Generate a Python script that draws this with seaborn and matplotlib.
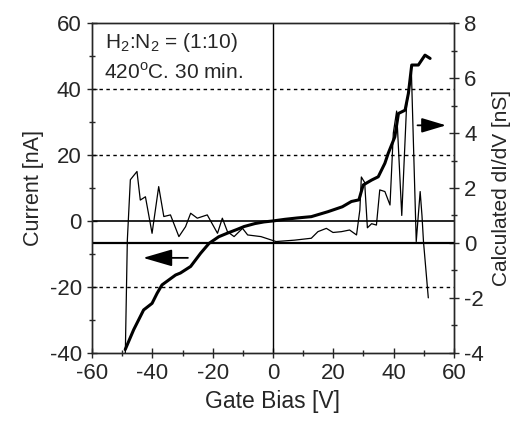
import numpy as np
import pandas as pd
import seaborn as sns
import matplotlib.pyplot as plt

# I-V curve (left axis)
bias_iv = [-49, -46.2, -42.9, -40.1, -38.4, -36.8, -32.3, -30.7, -27.3, -24, -21.2, -18,
           -15.1, -12, -9.6, -6, -3, 0, 4, 8, 12.7, 18.2, 23, 26, 28.5, 29.9, 32.7, 34.9,
           37.1, 38.2, 40.4, 41.6, 43.8, 44.9, 46, 48.2, 50.4, 52.1]
current = [-39, -33, -27, -25, -21.9, -19.4, -16.4, -15.8, -13.8, -9.8, -6.8, -4.8,
           -3.7, -2.6, -1.7, -0.8, -0.3, 0, 0.5, 0.9, 1.3, 2.8, 4.3, 5.9, 6.4, 10.9, 12.4, 13.4,
           17.5, 20.5, 25.5, 32.6, 33.6, 38.7, 47.3, 47.3, 50.3, 49.3]

# calculated dI/dV (right axis)
bias_g = [-49, -48.3, -47.3, -45.1, -44, -42.3, -40.1, -37.9, -36.2, -34, -31.2, -29,
          -27.3, -25.1, -21.8, -18.4, -16.8, -15.1, -12.9, -10.1, -8.4, -4, 1, 7.1, 12.7,
          14.9, 17.7, 19.9, 22.7, 25.4, 27.7, 28.8, 29.3, 30.4, 31.3, 32.7, 34.3, 35.4,
          37.1, 38.8, 39.9, 41.0, 42.7, 44.3, 45.9, 47.5, 48.8, 49.4, 49.9, 51.5]
didv = [-4.2, 0.1, 2.3, 2.6, 1.56, 1.68, 0.35, 2.05, 0.96, 1.02, 0.23, 0.59,
        1.08, 0.9, 1.02, 0.35, 0.9, 0.41, 0.23, 0.53, 0.29, 0.23, 0.05, 0.1, 0.17,
        0.41, 0.53, 0.38, 0.41, 0.47, 0.29, 1.2, 2.4, 2.2, 0.55, 0.7, 0.65, 1.93,
        1.87, 1.38, 4.0, 4.8, 1.0, 5.0, 6.2, 0.05, 1.87, 1.0, 0.05, -2.0]

iv = pd.DataFrame({"bias": bias_iv, "current": current})
gd = pd.DataFrame({"bias": bias_g, "didv": didv})

sns.set_style("ticks")
plt.rcParams['font.family'] = ['Liberation Sans', 'DejaVu Sans']
plt.rcParams['mathtext.fontset'] = 'custom'
plt.rcParams['mathtext.rm'] = 'Liberation Sans'
plt.rcParams['axes.unicode_minus'] = False

fig, ax = plt.subplots(figsize=(5.26, 4.21), dpi=100)
fig.subplots_adjust(left=0.175, right=0.863, bottom=0.162, top=0.945)
ax2 = ax.twinx()

# reference lines
for yv in [40, 20, -20]:
    ax.axhline(yv, color='k', lw=1, ls=(0, (2.5, 2.5)), zorder=1)
ax.axhline(0, color='k', lw=1.2, zorder=1)
ax.axvline(0, color='k', lw=1, zorder=1)
ax2.axhline(0, color='k', lw=1.6, zorder=1)

sns.lineplot(data=iv, x="bias", y="current", ax=ax, color='k', lw=2.2,
             estimator=None, sort=False)
sns.lineplot(data=gd, x="bias", y="didv", ax=ax2, color='k', lw=0.9,
             estimator=None, sort=False)

ax.set_xlim(-60, 60)
ax.set_ylim(-40, 60)
ax2.set_ylim(-4, 8)
ax.set_xticks(np.arange(-60, 61, 20))
ax.set_xticks(np.arange(-60, 61, 10), minor=True)
ax.set_yticks(np.arange(-40, 61, 20))
ax.set_yticks(np.arange(-40, 61, 10), minor=True)
ax2.set_yticks(np.arange(-4, 9, 2))
ax2.set_yticks(np.arange(-4, 9, 1), minor=True)

for a in (ax, ax2):
    a.tick_params(which='major', direction='inout', length=7, width=1, labelsize=16, pad=4)
    a.tick_params(which='minor', direction='inout', length=5, width=1)
    for s in a.spines.values():
        s.set_linewidth(1)
        s.set_visible(True)

ax.set_xlabel("Gate Bias [V]", fontsize=16.5, labelpad=4)
ax.set_ylabel("Current [nA]", fontsize=15.5, labelpad=4)
ax2.set_ylabel("Calculated dI/dV [nS]", fontsize=15, labelpad=6)

ax.text(-55.7, 54.2, "H$_2$:N$_2$ = (1:10)", fontsize=15, va='center')
ax.text(-56, 45.2, "420$^{\\rm o}$C. 30 min.", fontsize=15, va='center')

# arrows pointing to the axis each curve belongs to
ax.annotate('', xy=(-44, -11.2), xytext=(-27.3, -11.2),
            arrowprops=dict(arrowstyle='-|>,head_length=1.2,head_width=0.35',
                            color='k', lw=1.3, mutation_scale=15))
ax.annotate('', xy=(58.3, 29), xytext=(47, 29),
            arrowprops=dict(arrowstyle='-|>,head_length=1.0,head_width=0.3',
                            color='k', lw=1.3, mutation_scale=15))

fig.savefig("out.png", dpi=100)
